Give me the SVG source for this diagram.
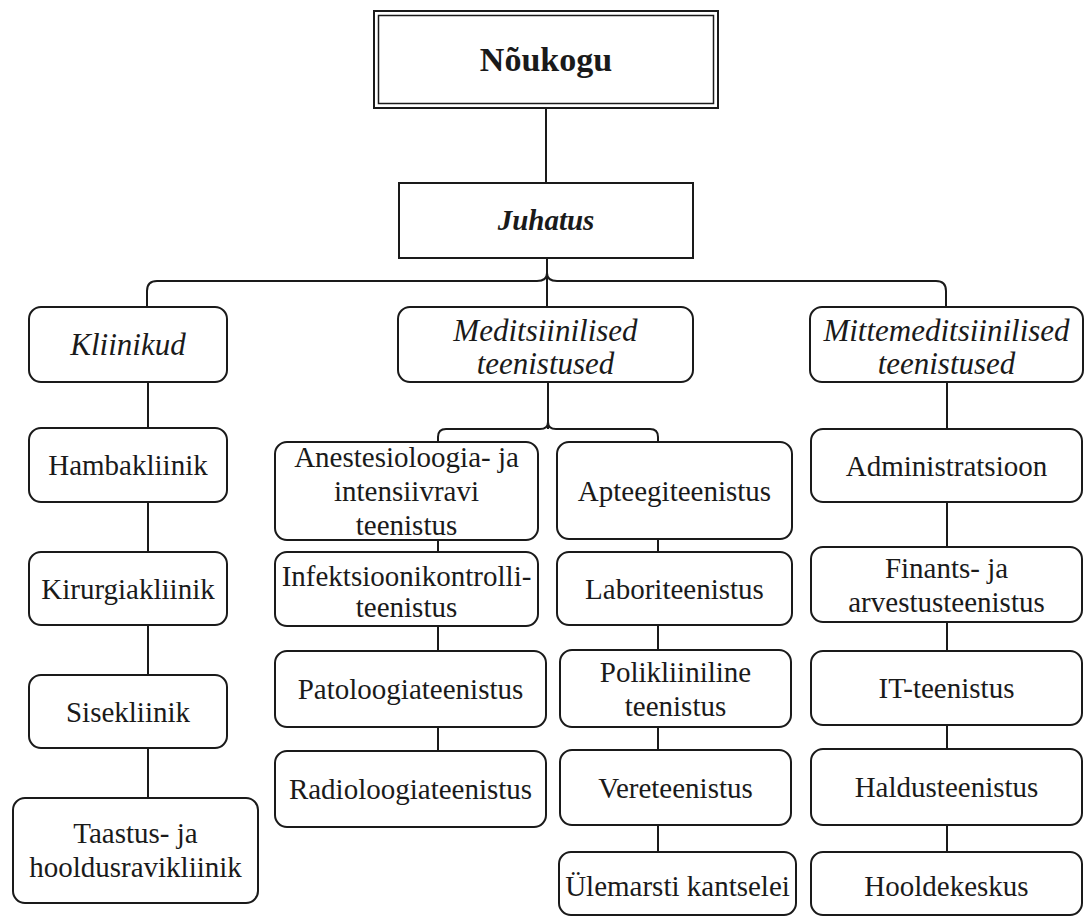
<svg xmlns="http://www.w3.org/2000/svg" width="1085" height="918" viewBox="0 0 1085 918">
<style>
.b{fill:#fff;stroke:#1a1a1a;stroke-width:2}
.c{fill:none;stroke:#1a1a1a;stroke-width:2}
text{font-family:'Liberation Serif',Tinos,'Times New Roman',Times,'DejaVu Serif',serif;font-size:29px;fill:#1a1a1a;text-anchor:middle}
.i{font-style:italic;font-size:31px}
.bi{font-style:italic;font-weight:bold}
.bd{font-weight:bold;font-size:34px}
</style>
<rect width="1085" height="918" fill="#fff"/>
<g id="connectors">
<path class="c" d="M546,108 V183"/>
<path class="c" d="M547,258 V307"/>
<path class="c" d="M147,307 V291 Q147,281 157,281 H537 Q547,281 547,273 Q547,281 557,281 H936 Q946,281 946,291 V307"/>
<path class="c" d="M548,382 V429"/>
<path class="c" d="M438,442 V437 Q438,429 446,429 H540 Q548,429 548,422 Q548,429 556,429 H650 Q658,429 658,437 V442"/>
<path class="c" d="M148,382 V428 M148,502 V552 M148,625 V675 M148,748 V798"/>
<path class="c" d="M438,540 V552 M438,626 V651 M438,727 V751"/>
<path class="c" d="M658,539 V552 M658,625 V650 M658,727 V750 M658,825 V852"/>
<path class="c" d="M947,382 V429 M947,502 V547 M947,622 V651 M947,725 V749 M947,825 V852"/>
</g>
<g id="noukogu">
<rect x="374" y="11" width="344" height="97" fill="#fff" stroke="#1a1a1a" stroke-width="2"/>
<rect x="378.5" y="15.5" width="335" height="88" fill="none" stroke="#1a1a1a" stroke-width="1.5"/>
<text class="bd" x="546" y="71">Nõukogu</text>
</g>
<g id="juhatus">
<rect class="b" x="399" y="183" width="294" height="75"/>
<text class="bi" x="546" y="230">Juhatus</text>
</g>
<g id="kliinikud">
<rect class="b" x="29" y="307" width="198" height="75" rx="12"/>
<text class="i" x="128" y="355">Kliinikud</text>
</g>
<g id="meditsiinilised">
<rect class="b" x="398" y="307" width="295" height="75" rx="12"/>
<text class="i" x="545.5" y="341">Meditsiinilised</text>
<text class="i" x="545.5" y="374">teenistused</text>
</g>
<g id="mittemeditsiinilised">
<rect class="b" x="810" y="307" width="273" height="75" rx="12"/>
<text class="i" x="946.5" y="341">Mittemeditsiinilised</text>
<text class="i" x="946.5" y="374">teenistused</text>
</g>
<g id="hambakliinik">
<rect class="b" x="29" y="428" width="198" height="74" rx="12"/>
<text x="128" y="475">Hambakliinik</text>
</g>
<g id="kirurgiakliinik">
<rect class="b" x="29" y="552" width="198" height="73" rx="12"/>
<text x="128" y="599">Kirurgiakliinik</text>
</g>
<g id="sisekliinik">
<rect class="b" x="29" y="675" width="198" height="73" rx="12"/>
<text x="128" y="722">Sisekliinik</text>
</g>
<g id="taastus">
<rect class="b" x="13" y="798" width="245" height="105" rx="12"/>
<text x="135.5" y="843">Taastus- ja</text>
<text x="135.5" y="877">hooldusravikliinik</text>
</g>
<g id="anestesioloogia">
<rect class="b" x="275" y="442" width="263" height="98" rx="12"/>
<text x="406.5" y="467">Anestesioloogia- ja</text>
<text x="406.5" y="501">intensiivravi</text>
<text x="406.5" y="535">teenistus</text>
</g>
<g id="infektsioonikontroll">
<rect class="b" x="275" y="552" width="263" height="74" rx="12"/>
<text x="406.5" y="586">Infektsioonikontrolli-</text>
<text x="406.5" y="617">teenistus</text>
</g>
<g id="patoloogia">
<rect class="b" x="275" y="651" width="271" height="76" rx="12"/>
<text x="410.5" y="699">Patoloogiateenistus</text>
</g>
<g id="radioloogia">
<rect class="b" x="275" y="751" width="271" height="76" rx="12"/>
<text x="410.5" y="799">Radioloogiateenistus</text>
</g>
<g id="apteegi">
<rect class="b" x="557" y="442" width="235" height="97" rx="12"/>
<text x="674.5" y="501">Apteegiteenistus</text>
</g>
<g id="labori">
<rect class="b" x="557" y="552" width="235" height="73" rx="12"/>
<text x="674.5" y="599">Laboriteenistus</text>
</g>
<g id="polikliiniline">
<rect class="b" x="560" y="650" width="231" height="77" rx="12"/>
<text x="675.5" y="682">Polikliiniline</text>
<text x="675.5" y="716">teenistus</text>
</g>
<g id="vere">
<rect class="b" x="560" y="750" width="231" height="75" rx="12"/>
<text x="675.5" y="798">Vereteenistus</text>
</g>
<g id="ulemarsti">
<rect class="b" x="559" y="852" width="237" height="63" rx="12"/>
<text x="677.5" y="896">Ülemarsti kantselei</text>
</g>
<g id="administratsioon">
<rect class="b" x="811" y="429" width="271" height="73" rx="12"/>
<text x="946.5" y="476">Administratsioon</text>
</g>
<g id="finants">
<rect class="b" x="811" y="547" width="271" height="75" rx="12"/>
<text x="946.5" y="577.5">Finants- ja</text>
<text x="946.5" y="611.5">arvestusteenistus</text>
</g>
<g id="it">
<rect class="b" x="811" y="651" width="271" height="74" rx="12"/>
<text x="946.5" y="698">IT-teenistus</text>
</g>
<g id="haldus">
<rect class="b" x="811" y="749" width="271" height="76" rx="12"/>
<text x="946.5" y="797">Haldusteenistus</text>
</g>
<g id="hoolde">
<rect class="b" x="811" y="852" width="271" height="63" rx="12"/>
<text x="946.5" y="896">Hooldekeskus</text>
</g>
</svg>
